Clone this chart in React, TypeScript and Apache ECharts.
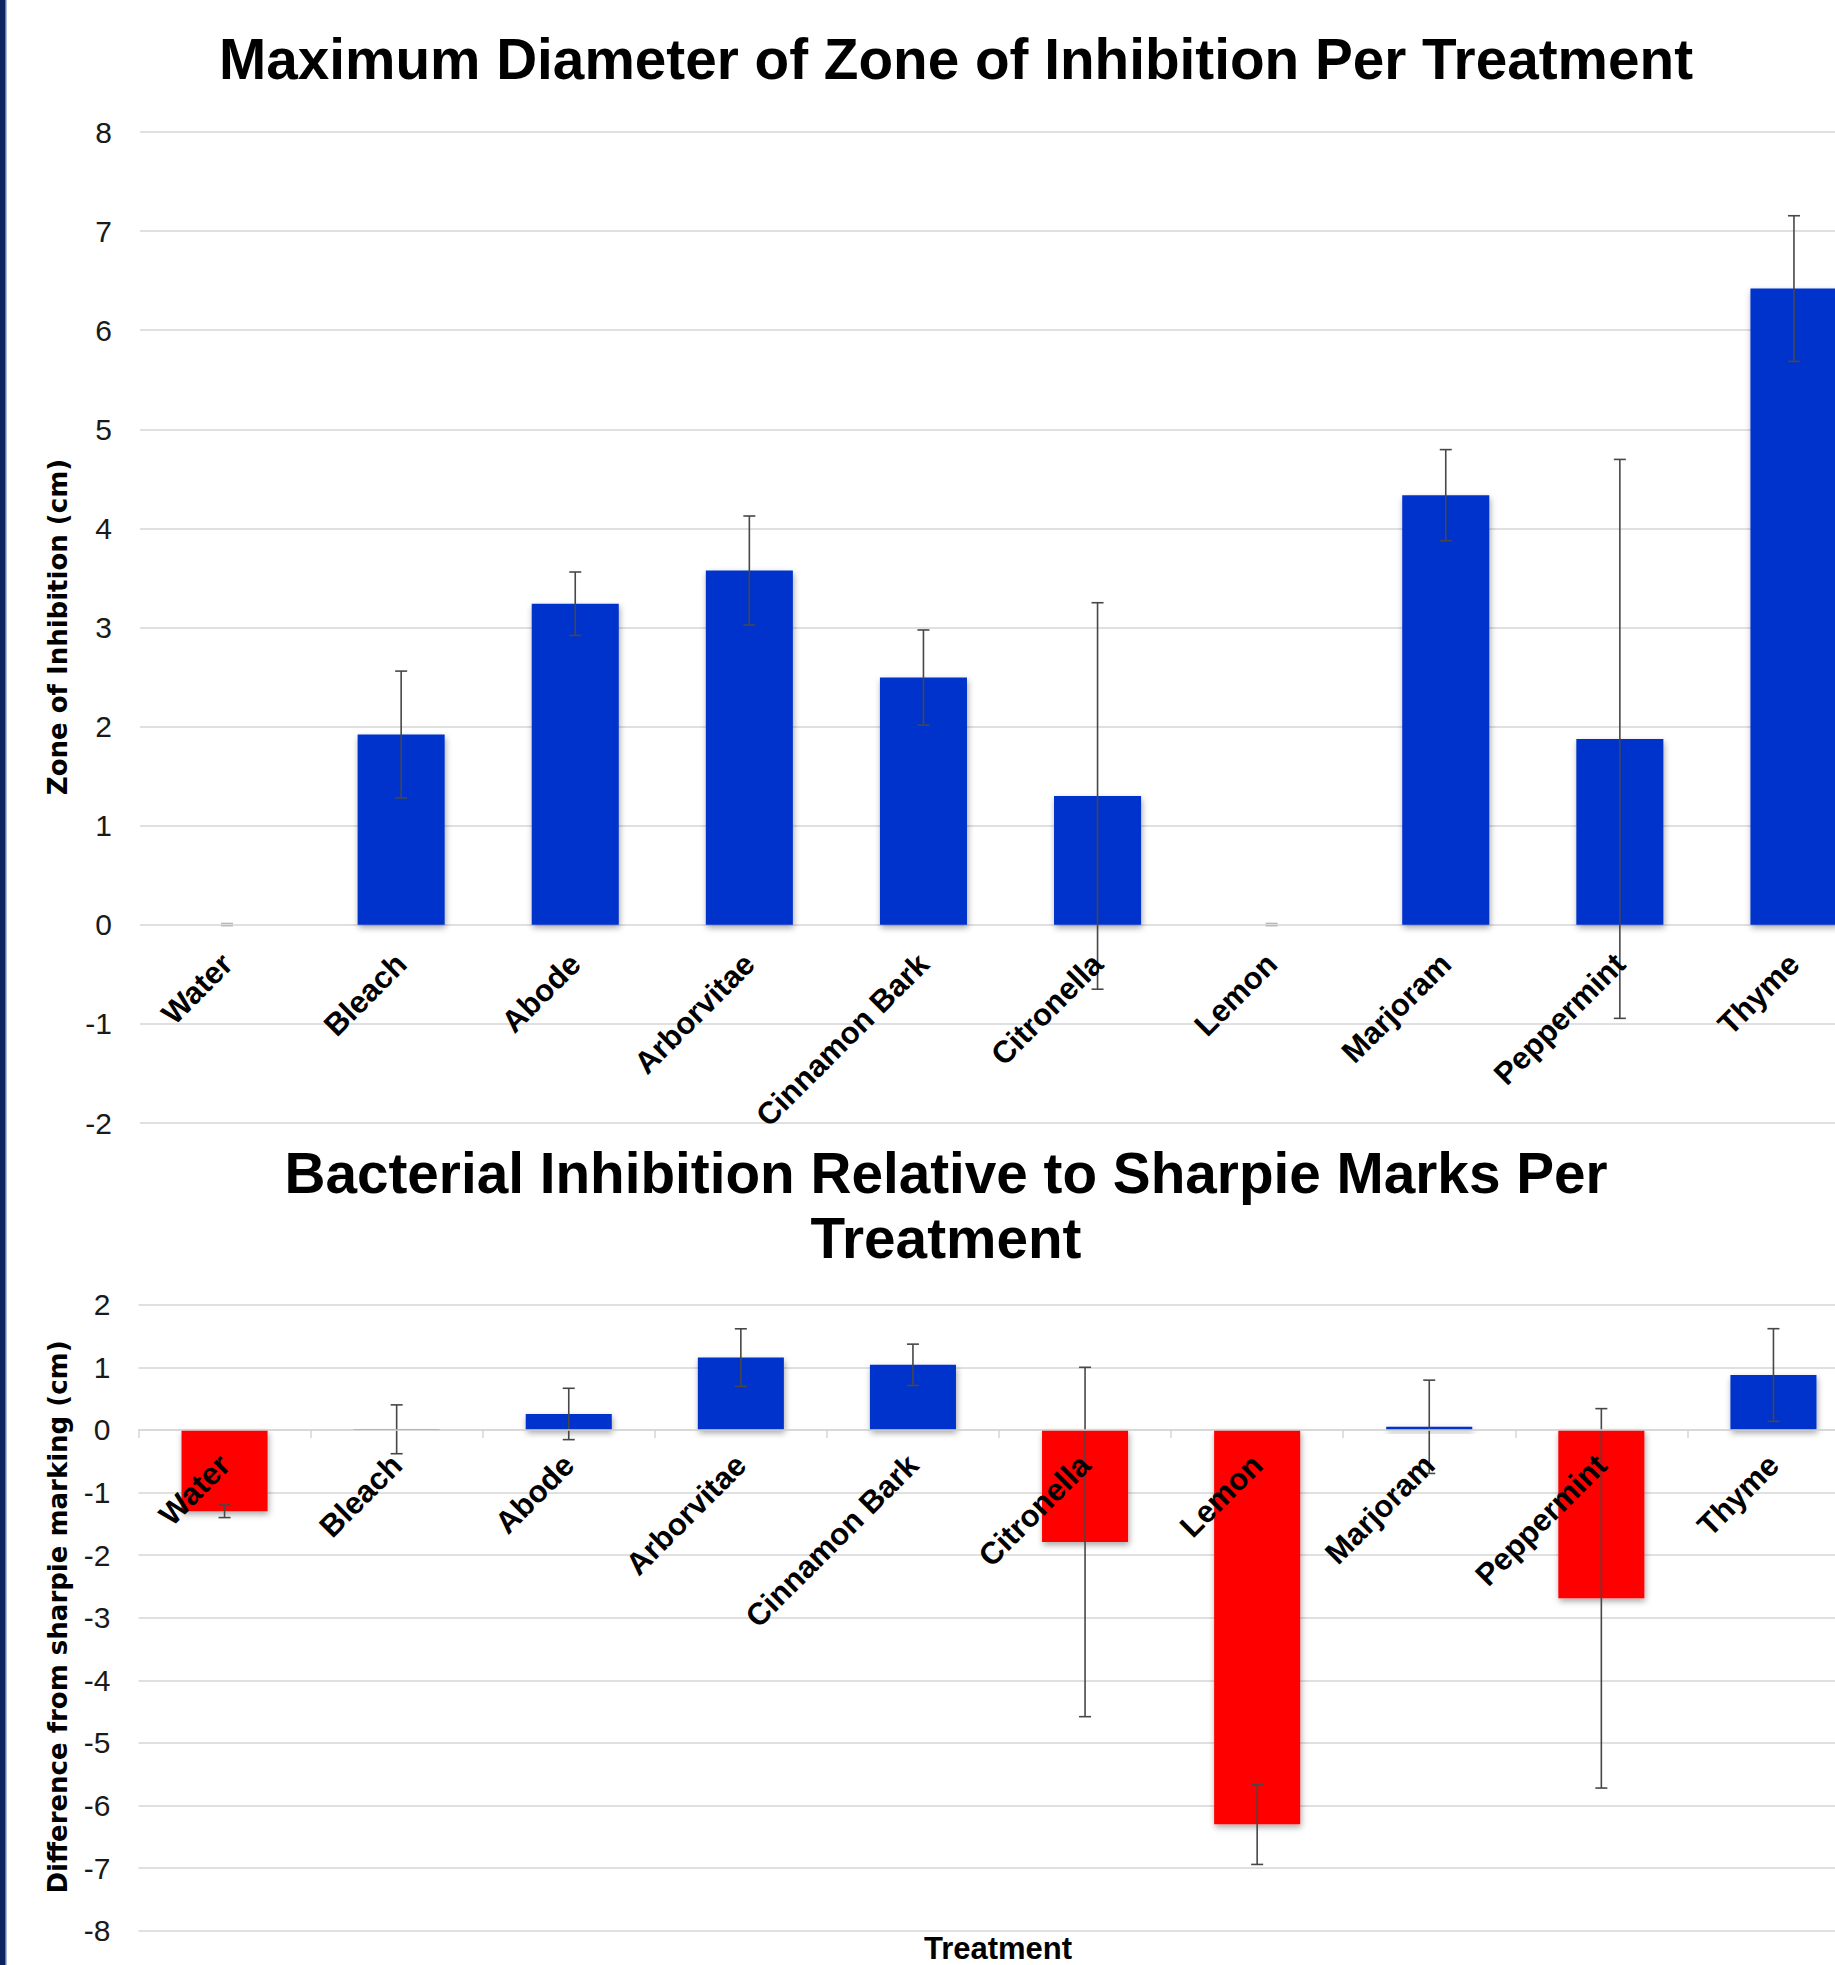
import React, { useEffect, useRef } from "react";
import * as echarts from "echarts";

const categories = ["Water", "Bleach", "Abode", "Arborvitae", "Cinnamon Bark", "Citronella", "Lemon", "Marjoram", "Peppermint", "Thyme"];

const zoneMeans = [0, 1.92, 3.24, 3.575, 2.495, 1.3, 0, 4.335, 1.876, 6.42];
const zoneErrors = [0, 0.64, 0.32, 0.55, 0.48, 1.95, 0, 0.46, 2.82, 0.735];

const diffMeans = [-1.3, 0.01, 0.255, 1.155, 1.04, -1.79, -6.3, 0.05, -2.69, 0.877];
const diffErrors = [0.1, 0.39, 0.41, 0.46, 0.33, 2.79, 0.64, 0.745, 3.03, 0.74];

const topTicks = [-2, -1, 0, 1, 2, 3, 4, 5, 6, 7, 8];
const bottomTicks = [-8, -7, -6, -5, -4, -3, -2, -1, 0, 1, 2];

const topTitle = "Maximum Diameter of Zone of Inhibition Per Treatment";
const bottomTitle1 = "Bacterial Inhibition Relative to Sharpie Marks Per";
const bottomTitle2 = "Treatment";
const topYName = "Zone of Inhibition (cm)";
const bottomYName = "Difference from sharpie marking (cm)";
const bottomXName = "Treatment";

const BLUE = "#0033CC";
const RED = "#FF0000";
const GRID_COLOR = "#d6d6d6";
const ERR_COLOR = "#474747";
const SANS = '"Liberation Sans", Arial, Helvetica, sans-serif';
const WIDE = '"DejaVu Sans", Verdana, sans-serif';

// grid geometry (pixels)
const TOP_GRID = { left: 140, top: 132, width: 1741, height: 991 };
const BOT_GRID = { left: 138.5, top: 1304.7, width: 1721, height: 626.1 };

const errRender = (params: any, api: any) => {
  const i = api.value(0);
  const lo = api.value(1);
  const hi = api.value(2);
  const pLo = api.coord([i, lo]);
  const pHi = api.coord([i, hi]);
  const w = 6;
  const flat = Math.abs(hi - lo) < 1e-9;
  const style = { stroke: flat ? "#b0b0b0" : ERR_COLOR, lineWidth: flat ? 1.2 : 1.6 };
  if (flat) {
    return {
      type: "group",
      children: [
        { type: "line", shape: { x1: pHi[0] - w, y1: pHi[1] - 1.5, x2: pHi[0] + w, y2: pHi[1] - 1.5 }, style },
        { type: "line", shape: { x1: pHi[0] - w, y1: pHi[1] + 1, x2: pHi[0] + w, y2: pHi[1] + 1 }, style },
      ],
    };
  }
  return {
    type: "group",
    children: [
      { type: "line", shape: { x1: pHi[0], y1: pHi[1], x2: pLo[0], y2: pLo[1] }, style },
      { type: "line", shape: { x1: pHi[0] - w, y1: pHi[1], x2: pHi[0] + w, y2: pHi[1] }, style },
      { type: "line", shape: { x1: pLo[0] - w, y1: pLo[1], x2: pLo[0] + w, y2: pLo[1] }, style },
    ],
  };
};

const barShadow = {
  shadowColor: "rgba(0,0,0,0.35)",
  shadowBlur: 6,
  shadowOffsetX: 1,
  shadowOffsetY: 3,
};

// offset (negative) that lifts a bottom category axis up to the value 0
const zeroOffset = (grid: { top: number; height: number }, ticks: number[]) => {
  const min = ticks[0];
  const max = ticks[ticks.length - 1];
  const fracFromBottom = (0 - min) / (max - min);
  return -fracFromBottom * grid.height;
};

export default function App() {
  const ref = useRef<HTMLDivElement>(null);

  useEffect(() => {
    document.body.style.margin = "0";
    document.body.style.overflow = "hidden";
    if (!ref.current) return;
    const chart = echarts.init(ref.current, undefined, { renderer: "svg" });

    const xLabel = (margin: number) => ({
      rotate: 45,
      margin,
      interval: 0,
      fontSize: 31,
      fontWeight: "bold",
      fontFamily: SANS,
      color: "#000",
    });

    const yLabel = {
      fontSize: 30,
      color: "#1a1a1a",
      margin: 28,
      fontFamily: SANS,
    };

    const option: any = {
      animation: false,
      backgroundColor: "#ffffff",
      grid: [
        { ...TOP_GRID, containLabel: false, outerBoundsMode: "none" },
        { ...BOT_GRID, containLabel: false, outerBoundsMode: "none" },
      ],
      xAxis: [
        {
          type: "category",
          gridIndex: 0,
          data: categories,
          position: "bottom",
          offset: zeroOffset(TOP_GRID, topTicks),
          axisLine: { show: false, onZero: false },
          axisTick: { show: false },
          axisLabel: xLabel(34),
          splitLine: { show: false },
          z: 10,
        },
        {
          type: "category",
          gridIndex: 1,
          data: categories,
          position: "bottom",
          offset: zeroOffset(BOT_GRID, bottomTicks),
          axisLine: { show: true, onZero: false, lineStyle: { color: GRID_COLOR, width: 1.5 } },
          axisTick: { show: true, length: 8, lineStyle: { color: GRID_COLOR, width: 1.5 } },
          axisLabel: xLabel(30),
          splitLine: { show: false },
          z: 10,
        },
      ],
      yAxis: [
        {
          type: "value",
          gridIndex: 0,
          min: topTicks[0],
          max: topTicks[topTicks.length - 1],
          interval: 1,
          axisLabel: yLabel,
          axisLine: { show: false },
          axisTick: { show: false },
          splitLine: { lineStyle: { color: GRID_COLOR, width: 1.5 } },
        },
        {
          type: "value",
          gridIndex: 1,
          min: bottomTicks[0],
          max: bottomTicks[bottomTicks.length - 1],
          interval: 1,
          axisLabel: yLabel,
          axisLine: { show: false },
          axisTick: { show: false },
          splitLine: { lineStyle: { color: GRID_COLOR, width: 1.5 } },
        },
      ],
      series: [
        {
          type: "bar",
          xAxisIndex: 0,
          yAxisIndex: 0,
          data: zoneMeans,
          barWidth: "50%",
          itemStyle: { color: BLUE, ...barShadow },
          z: 2,
        },
        {
          type: "custom",
          xAxisIndex: 0,
          yAxisIndex: 0,
          renderItem: errRender,
          encode: { x: 0, y: [1, 2] },
          data: zoneMeans.map((m, i) => [i, m - zoneErrors[i], m + zoneErrors[i]]),
          z: 5,
        },
        {
          type: "bar",
          xAxisIndex: 1,
          yAxisIndex: 1,
          data: diffMeans.map((v) => ({ value: v, itemStyle: { color: v < 0 ? RED : BLUE } })),
          barWidth: "50%",
          itemStyle: { ...barShadow },
          z: 2,
        },
        {
          type: "custom",
          xAxisIndex: 1,
          yAxisIndex: 1,
          renderItem: errRender,
          encode: { x: 0, y: [1, 2] },
          data: diffMeans.map((m, i) => [i, m - diffErrors[i], m + diffErrors[i]]),
          z: 5,
        },
      ],
      graphic: [
        { type: "rect", shape: { x: 0, y: 0, width: 5, height: 1965 }, style: { fill: "#0B2461" }, z: 100 },
        { type: "rect", shape: { x: 5, y: 0, width: 1.5, height: 1965 }, style: { fill: "#5B79B3" }, z: 100 },
        {
          type: "text",
          x: 956,
          y: 59,
          style: { text: topTitle, fontSize: 56.7, fontWeight: "bold", fontFamily: SANS, fill: "#000", align: "center", verticalAlign: "middle" },
        },
        {
          type: "text",
          x: 946,
          y: 1173,
          style: { text: bottomTitle1, fontSize: 56.7, fontWeight: "bold", fontFamily: SANS, fill: "#000", align: "center", verticalAlign: "middle" },
        },
        {
          type: "text",
          x: 946,
          y: 1238,
          style: { text: bottomTitle2, fontSize: 56.7, fontWeight: "bold", fontFamily: SANS, fill: "#000", align: "center", verticalAlign: "middle" },
        },
        {
          type: "text",
          x: 58,
          y: 627,
          rotation: Math.PI / 2,
          style: { text: topYName, fontSize: 26, fontWeight: "bold", fontFamily: WIDE, fill: "#000", align: "center", verticalAlign: "middle" },
        },
        {
          type: "text",
          x: 58,
          y: 1617,
          rotation: Math.PI / 2,
          style: { text: bottomYName, fontSize: 26, fontWeight: "bold", fontFamily: WIDE, fill: "#000", align: "center", verticalAlign: "middle" },
        },
        {
          type: "text",
          x: 998,
          y: 1964,
          style: { text: bottomXName, fontSize: 31, fontWeight: "bold", fontFamily: SANS, fill: "#000", align: "center", verticalAlign: "bottom" },
        },
      ],
    };

    chart.setOption(option);
    return () => chart.dispose();
  }, []);

  return <div ref={ref} style={{ position: "absolute", left: 0, top: 0, width: 1835, height: 1965 }} />;
}
